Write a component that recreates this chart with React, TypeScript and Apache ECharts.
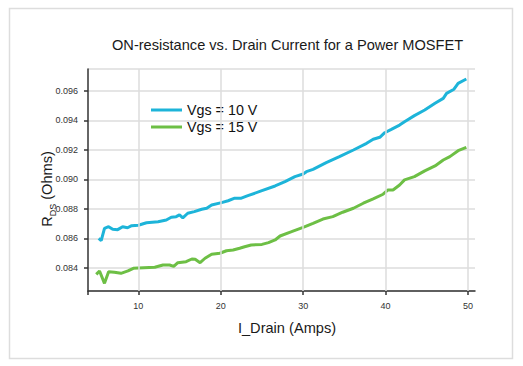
import React, { useEffect, useRef } from "react";
import * as echarts from "echarts";

const titleText = "ON-resistance vs. Drain Current for a Power MOSFET";
const xName = "I_Drain (Amps)";
const seriesNames = ["Vgs = 10 V", "Vgs = 15 V"];

const xVgs10 = [5.2, 5.5, 5.9, 6.4, 6.9, 7.5, 8.1, 8.7, 9.2, 10.0, 11.0, 12.4, 13.4, 14.0, 14.6, 15.0, 15.4, 16.0, 16.8, 17.7, 18.3, 18.9, 20.1, 20.9, 21.7, 22.5, 23.3, 25.0, 26.6, 27.8, 29.0, 30.0, 30.4, 31.2, 32.8, 34.4, 36.1, 37.7, 38.5, 39.3, 39.9, 40.7, 41.7, 42.3, 43.5, 44.75, 46.0, 47.0, 47.4, 48.3, 48.8, 49.8];
const yVgs10 = [0.0860, 0.08585, 0.08669, 0.0868, 0.08662, 0.0866, 0.0868, 0.08673, 0.08687, 0.0869, 0.08707, 0.08714, 0.08725, 0.08744, 0.08748, 0.0876, 0.0874, 0.08771, 0.08782, 0.08798, 0.08805, 0.08827, 0.08843, 0.08856, 0.08873, 0.08873, 0.0889, 0.08924, 0.08956, 0.08985, 0.09019, 0.09037, 0.09053, 0.09069, 0.09114, 0.09155, 0.092, 0.09245, 0.09273, 0.09286, 0.09317, 0.0934, 0.09369, 0.09392, 0.09433, 0.09471, 0.09517, 0.0955, 0.09584, 0.09612, 0.09652, 0.09681];

const xVgs15 = [4.9, 5.3, 5.9, 6.4, 7.1, 7.9, 8.75, 9.4, 10.0, 12.0, 13.0, 13.8, 14.3, 14.8, 15.8, 16.5, 16.9, 17.5, 18.1, 18.9, 19.9, 20.7, 21.5, 22.3, 22.9, 23.7, 25.0, 25.8, 26.6, 27.2, 28.6, 30.0, 31.2, 32.4, 33.6, 34.8, 36.1, 37.3, 38.5, 39.7, 40.3, 40.9, 41.7, 42.3, 43.5, 44.75, 46.0, 47.0, 47.8, 48.8, 49.8];
const yVgs15 = [0.08357, 0.0838, 0.08296, 0.08375, 0.08371, 0.08364, 0.0838, 0.08398, 0.084, 0.08405, 0.0842, 0.0842, 0.08411, 0.08436, 0.08443, 0.08461, 0.08459, 0.08436, 0.08466, 0.08493, 0.085, 0.08517, 0.08522, 0.08534, 0.08544, 0.08556, 0.0856, 0.08572, 0.0859, 0.08617, 0.08646, 0.08676, 0.08703, 0.08732, 0.08748, 0.08778, 0.08805, 0.08839, 0.08868, 0.089, 0.08929, 0.08929, 0.08963, 0.08997, 0.09019, 0.09058, 0.09092, 0.09132, 0.09155, 0.09195, 0.09218];

const xMin = 3.9;
const xMax = 50.85;
const yMin = 0.08244;
const yMax = 0.09749;
const xTickLabels = [10, 20, 30, 40, 50];

const FONT = "Liberation Sans, Arial, Helvetica, sans-serif";
const colors = ["#1db4d9", "#6dbf45"];
const gridColor = "#dcdcdc";

export default function App() {
  const ref = useRef<HTMLDivElement>(null);
  useEffect(() => {
    if (!ref.current) return;
    const chart = echarts.init(ref.current, undefined, { renderer: "svg" });
    const pair = (xs: number[], ys: number[]) => xs.map((x, i) => [x, ys[i]]);
    chart.setOption({
      animation: false,
      backgroundColor: "#ffffff",
      textStyle: { fontFamily: FONT },
      title: {
        text: titleText,
        left: 112,
        top: 37,
        padding: 0,
        textStyle: { fontSize: 14.6, fontWeight: "normal", color: "#1a1a1a", fontFamily: FONT },
      },
      legend: {
        data: seriesNames,
        orient: "vertical",
        left: 151,
        top: 103,
        padding: 0,
        itemGap: 3,
        itemWidth: 31,
        itemHeight: 3,
        icon: "rect",
        textStyle: { fontSize: 14.3, color: "#111", fontFamily: FONT },
      },
      grid: { left: 88, right: 48, top: 69, bottom: 75, containLabel: false },
      xAxis: {
        type: "value",
        min: xMin,
        max: xMax,
        splitNumber: 5,
        name: xName,
        nameLocation: "middle",
        nameGap: 29,
        nameTextStyle: { fontSize: 14.6, color: "#1a1a1a", fontFamily: FONT, padding: [0, 0, 0, 11] },
        axisLine: { show: true, onZero: false, lineStyle: { color: "#333", width: 1.5 } },
        axisTick: {
          show: true,
          length: 4,
          customValues: [xMin].concat(xTickLabels),
          lineStyle: { color: "#333", width: 1.5 },
        },
        axisLabel: {
          fontSize: 9,
          color: "#333",
          margin: 10,
          fontFamily: FONT,
          customValues: xTickLabels,
        },
        splitLine: { show: false },
      },
      yAxis: {
        type: "value",
        min: yMin,
        max: yMax,
        splitNumber: 7,
        axisLine: { show: true, onZero: false, lineStyle: { color: "#333", width: 1.5 } },
        axisTick: { show: true, length: 4, lineStyle: { color: "#333", width: 1.5 } },
        axisLabel: {
          fontSize: 9,
          color: "#333",
          margin: 10,
          fontFamily: FONT,
          showMinLabel: false,
          showMaxLabel: false,
          formatter: (v: number) => v.toFixed(3),
        },
        splitLine: { show: true, lineStyle: { color: gridColor, width: 1.5 } },
      },
      graphic: [
        {
          type: "rect",
          shape: { x: 9.5, y: 8.5, width: 503, height: 350 },
          style: { fill: "none", stroke: "#dddddd", lineWidth: 1.5 },
          silent: true,
        },
        {
          type: "text",
          x: 46,
          y: 189,
          rotation: Math.PI / 2,
          style: {
            text: "{r|R}{s|DS}{r| (Ohms)}",
            align: "center",
            verticalAlign: "middle",
            rich: {
              r: { fontSize: 14.6, fill: "#1a1a1a", fontFamily: FONT, verticalAlign: "bottom", lineHeight: 16 },
              s: { fontSize: 9, fill: "#1a1a1a", fontFamily: FONT, verticalAlign: "bottom", lineHeight: 16, padding: [0, 0, -3, 0] },
            },
          },
        },
      ],
      series: [
        {
          name: "grid",
          type: "line",
          data: [],
          z: 1,
          silent: true,
          markLine: {
            silent: true,
            symbol: ["none", "none"],
            label: { show: false },
            lineStyle: { color: gridColor, width: 1.5, type: "solid" },
            emphasis: { disabled: true },
            data: xTickLabels.map((v) => ({ xAxis: v })),
          },
        },
        {
          name: seriesNames[0],
          type: "line",
          data: pair(xVgs10, yVgs10),
          showSymbol: false,
          symbol: "none",
          color: colors[0],
          z: 3,
          lineStyle: { width: 3, color: colors[0] },
        },
        {
          name: seriesNames[1],
          type: "line",
          data: pair(xVgs15, yVgs15),
          showSymbol: false,
          symbol: "none",
          color: colors[1],
          z: 3,
          lineStyle: { width: 3, color: colors[1] },
        },
      ],
    });
    return () => chart.dispose();
  }, []);
  return (
    <div
      ref={ref}
      style={{ position: "absolute", left: 0, top: 0, width: 523, height: 366 }}
    />
  );
}
